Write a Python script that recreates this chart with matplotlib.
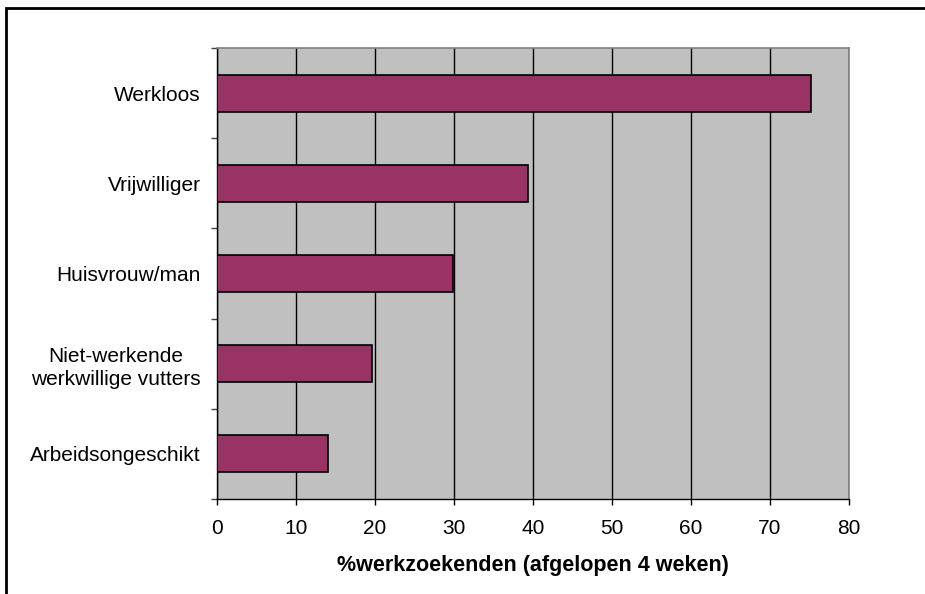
import matplotlib
matplotlib.use("Agg")
import matplotlib.pyplot as plt
from matplotlib.patches import Rectangle
import numpy as np

categories = ["Werkloos", "Vrijwilliger", "Huisvrouw/man",
              "Niet-werkende\nwerkwillige vutters", "Arbeidsongeschikt"]
values = [75.2, 39.4, 29.9, 19.6, 14.0]
xticks = [0, 10, 20, 30, 40, 50, 60, 70, 80]
xlabel = "%werkzoekenden (afgelopen 4 weken)"

plt.rcParams['font.family'] = ['Liberation Sans', 'DejaVu Sans']

W, H = 925, 594
fig = plt.figure(figsize=(W / 100, H / 100), dpi=100)
fig.patch.set_facecolor("white")

# outer chart border (only top/left visible in reference)
fig.add_artist(Rectangle((6 / W, -0.1), 1.2, 1 - 8 / H + 0.1,
                         transform=fig.transFigure, fill=False,
                         edgecolor="black", linewidth=2))

ax = fig.add_axes([217 / W, 1 - 499 / H, (849 - 217) / W, (499 - 48) / H])
ax.set_facecolor("#C0C0C0")

y = np.arange(len(categories))
ax.set_axisbelow(True)
ax.xaxis.grid(True, color="black", linewidth=1)
ax.barh(y, values, height=0.41, color="#993366", edgecolor="black", linewidth=1.2, zorder=3)

ax.set_xlim(0, 80)
ax.set_ylim(len(categories) - 0.5, -0.5)
ax.set_xticks(xticks)
ax.set_xticklabels([str(t) for t in xticks], fontsize=15)
ax.tick_params(axis="x", length=4.3, width=1, color="black", pad=10)

ax.set_yticks(np.arange(-0.5, len(categories), 1.0))
ax.set_yticklabels([])
ax.tick_params(axis="y", which="major", length=4.3, width=1, color="#404040")
ax.set_yticks(y, minor=True)
ax.set_yticklabels(categories, minor=True, fontsize=15, multialignment="center",
                   linespacing=1.3)
ax.tick_params(axis="y", which="minor", length=0, pad=11.5)

for s in ["top", "right"]:
    ax.spines[s].set_color("#808080")
    ax.spines[s].set_linewidth(1.2)
for s in ["left", "bottom"]:
    ax.spines[s].set_color("black")
    ax.spines[s].set_linewidth(1)

ax.set_xlabel(xlabel, fontsize=15.5, fontweight="bold", labelpad=12)

fig.savefig("out.png", dpi=100)
